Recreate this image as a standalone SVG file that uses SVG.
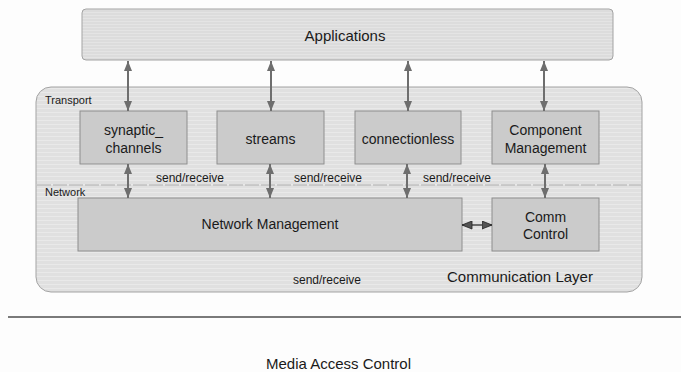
<svg xmlns="http://www.w3.org/2000/svg" width="681" height="372" viewBox="0 0 681 372">
  <defs>
    <pattern id="stripes" width="8" height="4" patternUnits="userSpaceOnUse">
      <rect width="8" height="4" fill="#e0e0e0"/>
      <rect y="0" width="8" height="1" fill="#e9e9e9"/>
    </pattern>
    <pattern id="stripesApp" width="8" height="3" patternUnits="userSpaceOnUse">
      <rect width="8" height="3" fill="#dcdcdc"/>
      <rect y="0" width="8" height="1" fill="#e4e4e4"/>
    </pattern>
    <marker id="ah" viewBox="0 0 10 8" refX="10" refY="4" markerWidth="10" markerHeight="8" markerUnits="userSpaceOnUse" orient="auto-start-reverse">
      <path d="M0,0 L10,4 L0,8 z" fill="#6e6e6e"/>
    </marker>
    <marker id="ahd" viewBox="0 0 11 9" refX="10.5" refY="4.5" markerWidth="11" markerHeight="9" markerUnits="userSpaceOnUse" orient="auto-start-reverse">
      <path d="M0.5,0.5 L10.5,4.5 L0.5,8.5 z" fill="#555555" stroke="#222222" stroke-width="0.8"/>
    </marker>
  </defs>
  <style>
    text { font-family: "Liberation Sans", Arial, sans-serif; fill: #1a1a1a; }
    .box { fill: #cbcbcb; stroke: #8e8e8e; stroke-width: 1; }
    .lbl { font-size: 14px; text-anchor: middle; }
    .sr { font-size: 12px; }
    .small { font-size: 11px; }
    .conn line { stroke: #6e6e6e; stroke-width: 2; }
  </style>
  <rect width="681" height="372" fill="#fdfdfd"/>

  <g id="applications">
    <rect x="82" y="9" width="531" height="51" rx="4" fill="url(#stripesApp)" stroke="#a3a3a3"/>
    <text x="345" y="41" font-size="15" text-anchor="middle">Applications</text>
  </g>

  <g id="communication-layer">
    <rect x="36" y="87" width="606" height="205" rx="15" fill="url(#stripes)" stroke="#a3a3a3"/>
    <line x1="37" y1="185" x2="641" y2="185" stroke="#adadad" stroke-width="1" stroke-dasharray="14 2"/>
    <text x="45" y="104" class="small">Transport</text>
    <text x="45" y="196" class="small">Network</text>
    <text x="447" y="282" font-size="15">Communication Layer</text>
  </g>

  <g id="synaptic-channels">
    <rect class="box" x="80" y="111" width="107" height="53"/>
    <text class="lbl" x="133.5" y="135">synaptic_</text>
    <text class="lbl" x="133.5" y="153">channels</text>
  </g>
  <g id="streams">
    <rect class="box" x="217" y="111" width="107" height="53"/>
    <text class="lbl" x="270.5" y="144">streams</text>
  </g>
  <g id="connectionless">
    <rect class="box" x="355" y="111" width="106" height="53"/>
    <text class="lbl" x="408" y="144">connectionless</text>
  </g>
  <g id="component-management">
    <rect class="box" x="492" y="111" width="107" height="53"/>
    <text class="lbl" x="545.5" y="135">Component</text>
    <text class="lbl" x="545.5" y="153">Management</text>
  </g>
  <g id="network-management">
    <rect class="box" x="78" y="198" width="384" height="53"/>
    <text class="lbl" x="270" y="229">Network Management</text>
  </g>
  <g id="comm-control">
    <rect class="box" x="492" y="198" width="107" height="53"/>
    <text class="lbl" x="545.5" y="222">Comm</text>
    <text class="lbl" x="545.5" y="239">Control</text>
  </g>

  <g id="connectors" class="conn">
    <line x1="128" y1="61" x2="128" y2="111" marker-start="url(#ah)" marker-end="url(#ah)"/>
    <line x1="271" y1="61" x2="271" y2="111" marker-start="url(#ah)" marker-end="url(#ah)"/>
    <line x1="408" y1="61" x2="408" y2="111" marker-start="url(#ah)" marker-end="url(#ah)"/>
    <line x1="544" y1="61" x2="544" y2="111" marker-start="url(#ah)" marker-end="url(#ah)"/>
    <line x1="128" y1="164" x2="128" y2="198" marker-start="url(#ah)" marker-end="url(#ah)"/>
    <line x1="270" y1="164" x2="270" y2="198" marker-start="url(#ah)" marker-end="url(#ah)"/>
    <line x1="407" y1="164" x2="407" y2="198" marker-start="url(#ah)" marker-end="url(#ah)"/>
    <line x1="545" y1="164" x2="545" y2="198" marker-start="url(#ah)" marker-end="url(#ah)"/>
    <line x1="462" y1="225" x2="492" y2="225" stroke="#444444" marker-start="url(#ahd)" marker-end="url(#ahd)"/>
    <text class="sr" x="156" y="182">send/receive</text>
    <text class="sr" x="294" y="182">send/receive</text>
    <text class="sr" x="423" y="182">send/receive</text>
    <text class="sr" x="293" y="284">send/receive</text>
  </g>

  <g id="media-access-control">
    <line x1="8" y1="317" x2="681" y2="317" stroke="#7a7a7a" stroke-width="2"/>
    <text x="338.5" y="369" font-size="15" text-anchor="middle">Media Access Control</text>
  </g>
</svg>
